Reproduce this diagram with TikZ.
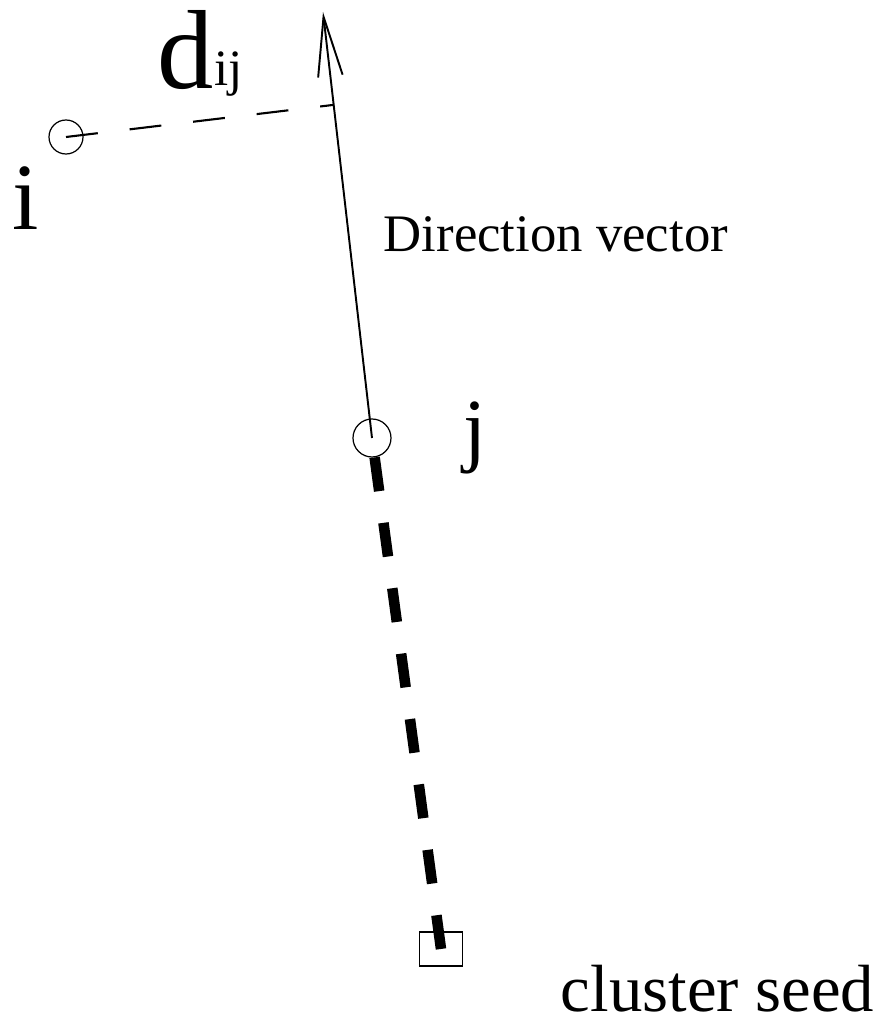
\documentclass[tikz,border=0pt]{standalone}
\usepackage{fontspec}
\setmainfont{Liberation Serif}
\usetikzlibrary{arrows.meta, positioning, calc}

\begin{document}
\begin{tikzpicture}[>={Straight Barb[length=34pt, width=14pt]}, line width=1pt,
    point/.style={draw, circle, inner sep=0pt, line width=0.7pt},
    lbl/.style={anchor=base west, inner sep=0pt}]
        \useasboundingbox (0,0) rectangle (17.6,20.54);
        % Points
        \node [point, minimum size=0.68cm] (i) at (1.32,17.8) {};
        \node [point, minimum size=0.76cm] (j) at (7.44,11.78) {};
        \node [draw, rectangle, inner sep=0pt, minimum width=0.86cm, minimum height=0.68cm] (seed) at (8.82,1.56) {};
        \coordinate (tip) at (6.46,20.30);
        \coordinate (foot) at ($(j.center)!0.782!(tip)$);

        % Vectors
        \draw [->, line width=1.1pt] (j.center) -- (tip);
        \draw [line width=1.2pt, dash pattern=on 0.64cm off 0.64cm] (i.center) -- (foot);
        \draw [line width=6pt, dash pattern=on 0.68cm off 0.64cm] (j) -- (seed.center);

        % Labels
        \node [lbl] (lbli) at (0.24,15.94) {\fontsize{54}{54}\selectfont i};
        \node [lbl] (lbld) at (3.14,18.76) {\fontsize{64}{64}\selectfont d\raisebox{2pt}{\fontsize{29}{29}\selectfont ij}};
        \node [lbl] (lblj) at (9.26,11.40) {\fontsize{47}{47}\selectfont j};
        \node [lbl] (lbldir) at (7.66,15.50) {\fontsize{30}{30}\selectfont Direction vector};
        \node [lbl] (lblseed) at (11.2,0.3) {\fontsize{38}{38}\selectfont cluster seed};
    \end{tikzpicture}
\end{document}
